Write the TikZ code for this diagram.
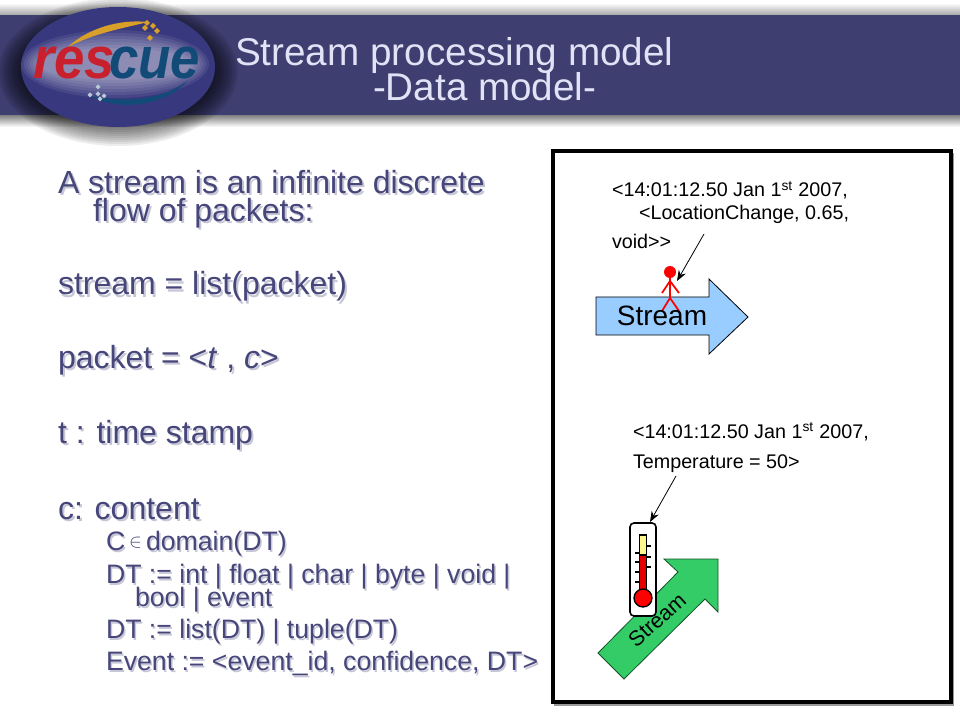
\documentclass[tikz,border=0pt]{standalone}
\usepackage{fontspec}
\setmainfont{Liberation Sans}
\usetikzlibrary{arrows.meta}

\definecolor{bannerblue}{HTML}{3E3E70}
\definecolor{logoblue}{HTML}{38387E}
\definecolor{titletext}{HTML}{E2E2F6}
\definecolor{bodytext}{HTML}{46467A}
\definecolor{bodyshade}{HTML}{C6C6D6}
\definecolor{streamblue}{HTML}{99CCFF}
\definecolor{streamgreen}{HTML}{33CC66}
\definecolor{logored}{HTML}{C8202C}
\definecolor{logonavy}{HTML}{124A78}
\definecolor{logogold}{HTML}{D8A028}

\tikzset{
    slidetext/.style={anchor=base west, inner sep=0pt, outer sep=0pt},
    titleline/.style={slidetext, text=titletext, font=\fontsize{29}{29}\selectfont},
    bigline/.style={slidetext, text=bodytext, font=\fontsize{24}{24}\selectfont},
    smallline/.style={slidetext, text=bodytext, font=\fontsize{20}{20}\selectfont},
    bigshade/.style={bigline, text=bodyshade},
    smallshade/.style={smallline, text=bodyshade},
    noteline/.style={slidetext, text=black, font=\fontsize{14.8}{14.8}\selectfont},
    logotext/.style={slidetext, font=\fontsize{44}{44}\selectfont\bfseries\itshape},
    pointer/.style={-{Stealth[length=8pt, width=6pt]}, line width=0.6pt},
    stickline/.style={draw=red, line width=1.3pt},
    tick/.style={line width=1pt}
}

% one line of body text with its shadow
\newcommand{\bigtext}[4]{
    \node[bigshade] at (#2+2, #3+2) {#4};
    \node[bigline] (#1) at (#2, #3) {#4};
}
\newcommand{\smalltext}[4]{
    \node[smallshade] at (#2+1.5, #3+1.5) {#4};
    \node[smallline] (#1) at (#2, #3) {#4};
}

\begin{document}
\begin{tikzpicture}[x=0.75pt, y=-0.75pt]
    \useasboundingbox (0, 0) rectangle (960, 720);
    % banner
    \shade[top color=white, bottom color=black!35] (0, 3) rectangle (960, 15);
    \shade[top color=black!50, bottom color=white] (0, 115) rectangle (960, 127);
    \fill[bannerblue] (0, 15) rectangle (960, 115);
    % logo
    \foreach \r in {0, 2, ..., 24} {
        \fill[black, opacity=0.07] (118, 72) ellipse [x radius=120-\r, y radius=74-\r];
    }
    \fill[logoblue] (118, 67) ellipse [x radius=97, y radius=60];
    \foreach \r in {0, 3, ..., 18} {
        \fill[white, opacity=0.08] (115, 64) ellipse [x radius=94-\r, y radius=34-\r];
    }
    \fill[logogold] (68, 47) .. controls (88, 28) and (120, 19) .. (148, 22)
        .. controls (120, 29) and (95, 33) .. (68, 47);
    \fill[logonavy] (90, 96) .. controls (130, 104) and (165, 98) .. (187, 81)
        .. controls (165, 106) and (120, 112) .. (90, 96);
    \foreach \px/\py in {147/23, 153/26, 157/31, 150/38, 145/28} {
        \fill[logogold] (\px, \py-3) -- (\px+3, \py) -- (\px, \py+3) -- (\px-3, \py) -- cycle;
    }
    \foreach \px/\py in {98/87, 90/95, 98/94, 104/96, 100/99} {
        \fill[white!70!logonavy] (\px, \py-2.5) -- (\px+2.5, \py) -- (\px, \py+2.5) -- (\px-2.5, \py) -- cycle;
    }
    \node[logotext, text=logored, xscale=0.93] (logores) at (33, 79) {res};
    \node[logotext, text=logonavy, xscale=0.9] (logocue) at (109, 79) {cue};
    % title
    \node[titleline] (title1) at (235, 66) {Stream processing model};
    \node[titleline] (title2) at (373, 101) {-Data model-};
    % body text
    \bigtext{line1}{58}{194}{A stream is an infinite discrete}
    \bigtext{line2}{93}{222}{flow of packets:}
    \bigtext{line3}{58}{295}{stream = list(packet)}
    \bigtext{line4}{58}{368}{packet = <\textit{t} , \textit{c}>}
    \bigtext{line5}{58}{443}{t : time stamp}
    \bigtext{line6}{58}{519}{c: content}
    \smalltext{sub1}{106}{550.5}{C}
    \node[slidetext, text=bodytext, font=\fontsize{14}{14}\selectfont] (sub1b) at (129, 547) {$\in$};
    \smalltext{sub1c}{146}{550.5}{domain(DT)}
    \smalltext{sub2}{106}{583.5}{DT := int | float | char | byte | void |}
    \smalltext{sub3}{135}{606.5}{bool | event}
    \smalltext{sub4}{106}{638.5}{DT := list(DT) | tuple(DT)}
    \smalltext{sub5}{106}{670.5}{Event := <event\_id, confidence, DT>}
    % frame
    \fill[black!40] (554, 153) rectangle (954, 706);
    \draw[line width=2.3pt, fill=white] (553, 151) rectangle (951, 702);
    % blue stream
    \draw[fill=streamblue, line width=0.6pt]
        (596, 297) -- (709, 297) -- (709, 279) -- (748, 317)
        -- (709, 354) -- (709, 335) -- (596, 335) -- cycle;
    \fill[red] (670, 272) circle [radius=6];
    \draw[stickline] (670, 278) -- (670, 298) -- (662, 311) (670, 298) -- (679, 311)
        (662, 293) -- (670, 281) -- (679, 293);
    \node[anchor=center, inner sep=0pt, font=\fontsize{21}{21}\selectfont] (stream1) at (662, 316) {Stream};
    \node[noteline] (note1) at (612, 197) {<14:01:12.50 Jan 1\textsuperscript{st} 2007,};
    \node[noteline] (note2) at (639, 220) {<LocationChange, 0.65,};
    \node[noteline] (note3) at (612, 249) {void>{}>};
    \coordinate (from1) at (704, 234);
    \coordinate (to1) at (677, 281);
    \draw[pointer] (from1) -- (to1);
    % green stream
    \draw[fill=streamgreen, draw=black!60!streamgreen, line width=0.6pt]
        (598, 653) -- (624, 679) -- (705, 599) -- (718, 612)
        -- (718, 559) -- (664, 559) -- (678, 572) -- cycle;
    \node[anchor=center, inner sep=0pt, rotate=42, font=\fontsize{16}{16}\selectfont] (stream2) at (657, 620) {Stream};
    % thermometer
    \draw[fill=white, line width=1.2pt, rounded corners=3pt] (630, 523) rectangle (656, 616);
    \draw[fill=yellow!45, line width=0.8pt] (639.5, 535) rectangle (646.5, 556);
    \draw[fill=red!90!black, line width=0.8pt] (639.5, 555) rectangle (646.5, 590);
    \draw[fill=red, line width=1pt] (643, 598) circle [radius=9];
    \foreach \ty in {553, 562, 572, 582} {
        \draw[tick] (635, \ty) -- (640, \ty);
    }
    \foreach \ty in {546, 557, 567} {
        \draw[tick] (646, \ty) -- (651, \ty);
    }
    \node[noteline] (note4) at (633, 438) {<14:01:12.50 Jan 1\textsuperscript{st} 2007,};
    \node[noteline] (note5) at (633, 468) {Temperature = 50>};
    \coordinate (from2) at (676, 476);
    \coordinate (to2) at (650, 522);
    \draw[pointer] (from2) -- (to2);
\end{tikzpicture}
\end{document}
